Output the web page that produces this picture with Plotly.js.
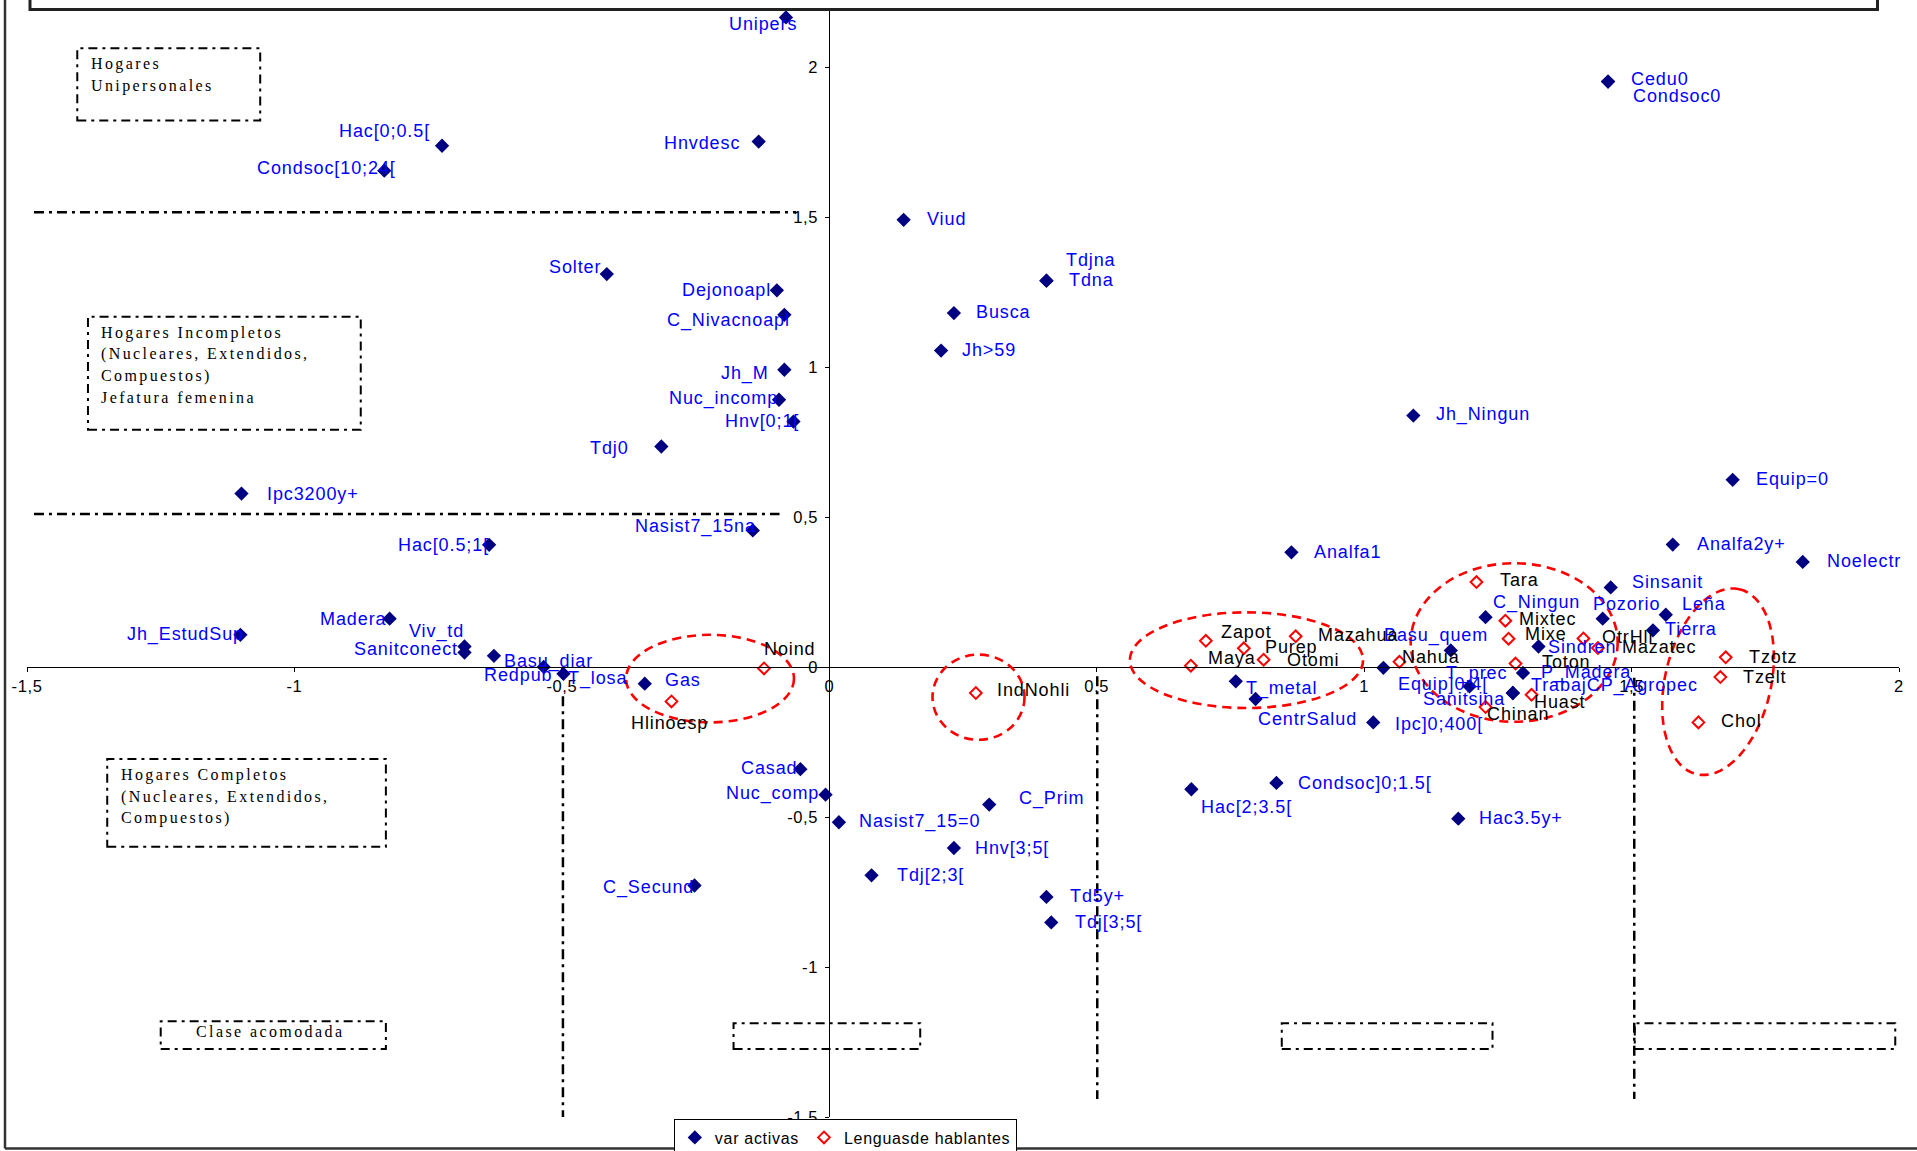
<!DOCTYPE html>
<html><head><meta charset="utf-8">
<script src="https://cdn.plot.ly/plotly-3.0.1.min.js"></script>
<style>
html,body{margin:0;padding:0;background:#fff;}
#chart{width:1917px;height:1151px;}
text.annotation-text[style*="Serif"]{letter-spacing:2.4px;}
text.annotation-text[style*="Liberation Sans"]{letter-spacing:0.9px;}
.xtick text,.ytick text{letter-spacing:0.6px;}
.legendtext{letter-spacing:0.7px;}
</style></head><body><div id="chart"></div><script>
// ---------- data ----------
const activeNames = ['Unipers','Hac[0;0.5[','Condsoc[10;24[','Hnvdesc','Viud','Tdjna','Tdna','Busca','Jh>59','Solter',
 'Dejonoapl','C_Nivacnoapl','Jh_M','Nuc_incomp','Hnv[0;1[','Tdj0','Ipc3200y+','Nasist7_15na','Hac[0.5;1[','Madera',
 'Jh_EstudSup','Viv_td','Sanitconect','Basu_diar','Redpub','T_losa','Gas','Casad','Nuc_comp','C_Secund',
 'Nasist7_15=0','C_Prim','Hnv[3;5[','Tdj[2;3[','Td5y+','Tdj[3;5[','Hac[2;3.5[','Condsoc]0;1.5[','Hac3.5y+','Cedu0',
 'Condsoc0','Jh_Ningun','Analfa1','T_metal','CentrSalud','Ipc]0;400[','Basu_quem','T_prec','Equip=0','Analfa2y+',
 'Noelectr','Sinsanit','Pozorio','Leña','Tierra','C_Ningun','Sindren','P_Madera','Equip]0;4[','Sanitsina','TrabajCP_Agropec'];
const activeX = [-0.081,-0.724,-0.832,-0.132,0.139,0.406,0.406,0.233,0.209,-0.416,
 -0.098,-0.084,-0.084,-0.094,-0.067,-0.314,-1.099,-0.143,-0.636,-0.822,
 -1.101,-0.682,-0.682,-0.627,-0.534,-0.497,-0.345,-0.054,-0.007,-0.252,
 0.018,0.299,0.233,0.079,0.406,0.415,0.677,0.836,1.176,1.456,
 1.456,1.092,0.864,0.760,0.797,1.017,1.036,1.162,1.689,1.577,
 1.820,1.461,1.446,1.564,1.540,1.227,1.326,1.297,1.197,1.278,1.278];
const activeY = [2.167,1.739,1.656,1.753,1.492,1.289,1.289,1.181,1.056,1.311,
 1.257,1.175,0.992,0.892,0.819,0.736,0.579,0.456,0.408,0.162,
 0.108,0.069,0.049,0.038,0.001,-0.022,-0.055,-0.340,-0.425,-0.728,
 -0.517,-0.458,-0.603,-0.694,-0.766,-0.851,-0.407,-0.386,-0.505,1.953,
 1.953,0.839,0.383,-0.047,-0.106,-0.184,-0.002,0.056,0.625,0.409,
 0.351,0.266,0.162,0.175,0.123,0.167,0.069,-0.019,-0.064,-0.086,-0.086];

const langNames = ['Noind','Hlinoesp','IndNohli','Maya','Zapot','Purep','Otomi','Mazahua','Nahua','Tara',
 'Mixtec','Mixe','Toton','Huast','Chinan','OtrHli','Mazatec','Tzotz','Tzelt','Chol'];
const langX = [-0.122,-0.295,0.274,0.676,0.704,0.775,0.812,0.872,1.066,1.210,
 1.264,1.270,1.283,1.313,1.227,1.410,1.437,1.676,1.666,1.625];
const langY = [-0.004,-0.114,-0.086,0.005,0.088,0.063,0.025,0.103,0.018,0.284,
 0.155,0.095,0.012,-0.092,-0.133,0.096,0.064,0.033,-0.033,-0.184];

const xTickVals = [-1.5,-1,-0.5,0,0.5,1,1.5,2];
const xTickText = ['-1,5','-1','-0,5','0','0,5','1','1,5','2'];
const yTickVals = [-1.5,-1,-0.5,0,0.5,1,1.5,2];
const yTickText = ['-1,5','-1','-0,5','0','0,5','1','1,5','2'];

const seriesNames = ['var activas','Lenguasde hablantes'];

// ---------- label placement (pixel offsets: dx right, dy down) ----------
const activeLabelOffset = [[-22.5,7],[-57.6,-14.7],[-57.5,-3],[-57,1],[43,-1],[45,-21],[45.5,-0.7],[49.6,-0.7],[48,-0.7],[-31.4,-6.6],
 [-50,0],[-56,5.7],[-39,3.3],[-56,-1],[-31,-0.7],[-52,1],[72,0],[-57.5,-4],[-45.5,0],[-36.6,0],
 [-55,0],[-28,-15],[-59,-3.4],[55,5.7],[-26,7.7],[35,5],[38.7,-3.3],[-31.4,-1],[-53,-0.7],[-46,2.3],
 [81,-1],[62,-6],[58.5,0],[58.6,-0.7],[51,-0.7],[57,-0.3],[55,17.7],[89,0],[62.7,-0.7],[51.7,-2.3],
 [69.3,14],[69.6,-0.7],[56,-0.3],[46,7.3],[52,19.7],[65.4,1.3],[53,-32],[26,22.6],[59.4,-1],[68.4,-0.7],
 [61,-0.7],[56.7,-5.3],[23.4,-14.7],[38,-10.7],[37.7,-1.3],[50.7,-14.6],[43.7,0.7],[63.4,-0.7],[-26.7,-2.4],[-49,6],[101.7,-7.3]];
const langLabelOffset = [[26,-19],[-2,22],[58,-3],[41,-8],[41,-9],[48,-1],[50,0],[62,-1],[32,-5],[43,-2],
 [42,-2],[37,-5],[51,-2],[28,7],[32,7],[44,-1],[61,-1],[48,0],[45,0],[43,-1]];

// ---------- geometry helpers (page pixels -> paper / data) ----------
const PL=27, PR=17.5, PT=10, PB=33.5, W=1917, H=1151;
const PW=W-PL-PR, PH=H-PT-PB;
const XR=[-1.5,2];
const ymax = 2.1917;
const px2paperX = p => (p-PL)/PW;
const px2paperY = p => (H-PB-p)/PH;
const px2dataX = p => XR[0] + (p-PL)/PW*(XR[1]-XR[0]);
const px2dataY = p => -1.5 + (H-PB-p)/PH*(ymax+1.5);

const labelFont = c => ({family:'Liberation Sans, Arial, sans-serif', size:18, color:c});
const annotations = [];
activeNames.forEach((n,i)=>{
  annotations.push({x:activeX[i], y:activeY[i], xref:'x', yref:'y', text:n, showarrow:false,
    xanchor:'center', yanchor:'middle', xshift:activeLabelOffset[i][0], yshift:-activeLabelOffset[i][1],
    font:labelFont('#0000FF')});
});
langNames.forEach((n,i)=>{
  annotations.push({x:langX[i], y:langY[i], xref:'x', yref:'y', text:n, showarrow:false,
    xanchor:'center', yanchor:'middle', xshift:langLabelOffset[i][0], yshift:-langLabelOffset[i][1],
    font:labelFont('#000000')});
});

// group boxes text (serif)
const serif = {family:'Liberation Serif, Times New Roman, serif', size:16, color:'#000'};
const boxTexts = [
  {x:-1.384, ys:[2.011,1.938], lines:['Hogares','Unipersonales']},
  {x:-1.365, ys:[1.114,1.045,0.972,0.901], lines:['Hogares Incompletos','(Nucleares, Extendidos,','Compuestos)','Jefatura femenina']},
  {x:-1.328, ys:[-0.358,-0.432,-0.503], lines:['Hogares Completos','(Nucleares, Extendidos,','Compuestos)']},
  {x:-1.187, ys:[-1.216], lines:['Clase acomodada']}
];
boxTexts.forEach(b=>b.lines.forEach((t,k)=>{
  annotations.push({x:b.x, y:b.ys[k], xref:'x', yref:'y', text:t, showarrow:false, xanchor:'left', yanchor:'middle', font:serif});
}));

const shapes = [];
const dashdot = {color:'#000', width:2.5, dash:'10px,5px,3px,5px'};
const boxLine = {color:'#000', width:2, dash:'9px,5px,3px,5px'};
// horizontal separators
shapes.push({type:'line', xref:'x', yref:'y', x0:-1.487, x1:-0.062, y0:1.517, y1:1.517, line:dashdot});
shapes.push({type:'line', xref:'x', yref:'y', x0:-1.487, x1:-0.093, y0:0.511, y1:0.511, line:dashdot});
// vertical separators
shapes.push({type:'line', xref:'x', yref:'y', x0:-0.498, x1:-0.498, y0:-0.097, y1:-1.505, line:dashdot});
shapes.push({type:'line', xref:'x', yref:'y', x0:0.501, x1:0.501, y0:-0.03, y1:-1.44, line:dashdot});
shapes.push({type:'line', xref:'x', yref:'y', x0:1.505, x1:1.505, y0:-0.035, y1:-1.44, line:dashdot});
// group boxes
[[-1.406,-1.064,1.823,2.064],[-1.386,-0.876,0.792,1.169],[-1.350,-0.829,-0.599,-0.306],[-1.250,-0.829,-1.273,-1.181],
 [-0.179,0.170,-1.273,-1.187],[0.846,1.240,-1.273,-1.187],[1.506,1.993,-1.273,-1.187]].forEach(r=>{
  shapes.push({type:'rect', xref:'x', yref:'y', x0:r[0], x1:r[1], y0:r[2], y1:r[3], line:boxLine, fillcolor:'rgba(0,0,0,0)'});
});
// red dashed ellipses
const redDash = {color:'#FF0000', width:2.6, dash:'9px,6px'};
[[-0.380,-0.066,-0.184,0.108],[0.193,0.365,-0.242,0.042],[0.562,0.998,-0.136,0.183],[1.087,1.474,-0.182,0.347]].forEach(e=>{
  shapes.push({type:'circle', xref:'x', yref:'y', x0:e[0], x1:e[1], y0:e[2], y1:e[3], line:redDash});
});
// tilted ellipse (right group)
(function(){
  const cx=1718.5, cy=682, a=95, b=53, th=13*Math.PI/180;
  let p='';
  for(let k=0;k<=72;k++){
    const t=k/72*2*Math.PI;
    const px = cx + a*Math.cos(t)*Math.sin(th) + b*Math.sin(t)*Math.cos(th);
    const py = cy - a*Math.cos(t)*Math.cos(th) + b*Math.sin(t)*Math.sin(th);
    p += (k===0?'M':'L') + px2dataX(px).toFixed(4)+','+px2dataY(py).toFixed(4);
  }
  shapes.push({type:'path', xref:'x', yref:'y', path:p+'Z', line:redDash});
})();
// frame pieces (title box bottom, left and bottom borders)
shapes.push({type:'rect', xref:'paper', yref:'paper', x0:px2paperX(30), x1:px2paperX(1878), y0:px2paperY(9.5), y1:px2paperY(-20),
  line:{color:'#222', width:3}, fillcolor:'rgba(0,0,0,0)'});
shapes.push({type:'line', xref:'paper', yref:'paper', x0:px2paperX(5), x1:px2paperX(5), y0:px2paperY(-5), y1:px2paperY(1149), line:{color:'#333', width:2.5}});
shapes.push({type:'line', xref:'paper', yref:'paper', x0:px2paperX(5), x1:px2paperX(1925), y0:px2paperY(1149), y1:px2paperY(1149), line:{color:'#333', width:2.5}});

const traces = [
  {type:'scatter', mode:'markers', name:seriesNames[0], x:activeX, y:activeY, text:activeNames, hoverinfo:'text+x+y',
   marker:{symbol:'diamond', size:11, color:'#000080'}},
  {type:'scatter', mode:'markers', name:seriesNames[1], x:langX, y:langY, text:langNames, hoverinfo:'text+x+y',
   marker:{symbol:'diamond-open', size:9, color:'#FF0000', line:{width:2, color:'#FF0000'}}}
];

const axFont = {family:'Liberation Sans, Arial, sans-serif', size:16.5, color:'#000'};
const layout = {
  width:W, height:H, paper_bgcolor:'#fff', plot_bgcolor:'rgba(0,0,0,0)',
  margin:{l:PL, r:PR, t:PT, b:PB, autoexpand:false},
  showlegend:true,
  legend:{orientation:'h', x:px2paperX(674), y:px2paperY(1120), xanchor:'left', yanchor:'top',
    bordercolor:'#000', borderwidth:1, bgcolor:'#fff', font:{family:'Liberation Sans, Arial, sans-serif', size:16, color:'#000'},
    itemwidth:30, tracegroupgap:0},
  xaxis:{range:XR, anchor:'free', position:1.5/(ymax+1.5), showline:true, linecolor:'#000', linewidth:1,
    ticks:'outside', ticklen:4, tickcolor:'#000', tickvals:xTickVals, ticktext:xTickText, tickfont:axFont,
    showgrid:false, zeroline:false, fixedrange:true},
  yaxis:{range:[-1.5,ymax], anchor:'free', position:1.5/3.5, showline:true, linecolor:'#000', linewidth:1,
    ticks:'outside', ticklen:4, tickcolor:'#000', tickvals:yTickVals, ticktext:yTickText, tickfont:axFont,
    ticklabelstandoff:4, showgrid:false, zeroline:false, fixedrange:true},
  shapes:shapes, annotations:annotations
};
Plotly.newPlot('chart', traces, layout, {displayModeBar:false, staticPlot:true});
</script></body></html>
